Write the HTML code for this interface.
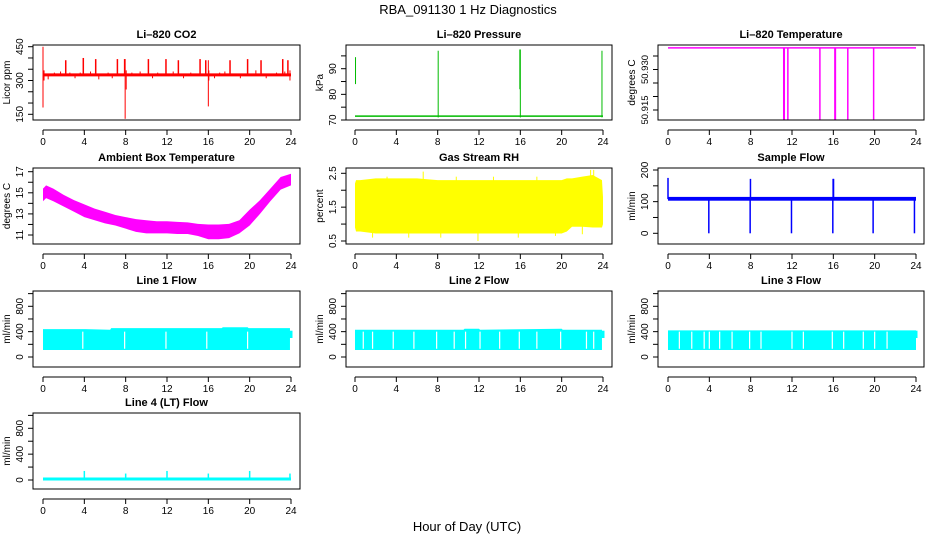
<!DOCTYPE html>
<html><head><meta charset="utf-8"><style>
html,body{margin:0;padding:0;background:#fff;}
svg{display:block;font-family:"Liberation Sans",sans-serif;}
</style></head><body>
<svg id="chart" width="936" height="540" viewBox="0 0 936 540">
<text x="468" y="14" text-anchor="middle" font-size="13">RBA_091130  1 Hz Diagnostics</text>
<text x="467" y="531" text-anchor="middle" font-size="13">Hour of Day (UTC)</text>
</svg>
<script>
// ---- data ----
const xTicks=[0,4,8,12,16,20,24];
// CO2
const co2Base=325;
const co2SpikeHours=[2.2,3.9,5.1,7.2,7.9,10.2,11.9,13.1,15.2,15.75,18.1,19.8,21.1,23.2,23.7];
const co2SpikeVals=[390,400,395,395,395,395,395,390,395,390,390,395,390,395,390];
const co2SegHours=[0,7.95,8.05,16,16.05,0.1,23.9];
const co2SegLo=[180,130,260,185,300,300,300];
const co2SegHi=[450,395,345,390,345,345,345];
const co2BumpHours=[0.5,1.1,1.7,2.6,3.1,3.6,4.6,5.4,6.3,6.7,8.6,9.4,10.6,11.1,12.6,13.6,14.3,16.6,17.1,17.6,19.1,20.6,21.6,22.6,23.4];
const co2BumpVals=[305,335,340,335,310,335,340,305,335,310,335,340,310,335,340,310,335,310,335,340,310,345,310,335,340];
// Pressure
const presBase=71.5;
const presSegHours=[0.05,8.05,15.95,16.0,23.9];
const presSegLo=[84,71,82,71,71];
const presSegHi=[94.5,97,97.5,97.5,97];
// Temperature
const tempTop=50.938;
const tempDropHours=[11.2,11.25,11.6,14.7,16.15,16.2,17.4,19.9];
const tempDropVals=[50.9115,50.9115,50.9115,50.9115,50.9115,50.9115,50.9115,50.9115];
// Ambient box temperature
const ambHours=[0,0.3,1,2,3,4,5,6,7,8,9,10,11,12,13,14,15,16,17,18,19,20,21,22,23,24];
const ambHigh=[15.4,15.7,15.4,14.8,14.3,13.9,13.5,13.2,12.9,12.7,12.5,12.4,12.3,12.3,12.25,12.2,12.05,12.0,12.0,12.05,12.4,13.4,14.3,15.4,16.5,16.8];
const ambLow=[14.2,14.5,14.2,13.7,13.2,12.7,12.4,12.1,11.9,11.6,11.3,11.15,11.15,11.15,11.1,11.1,10.9,10.6,10.6,10.7,11.15,11.9,13.0,14.2,15.3,15.7];
// Gas stream RH
const rhHours=[0,0.1,0.5,2,4,6,8,10,12,14,16,18,20,20.5,21,22,23,23.9,24];
const rhHigh=[2.2,2.3,2.3,2.35,2.35,2.35,2.3,2.3,2.3,2.3,2.3,2.3,2.3,2.35,2.35,2.4,2.45,2.3,1.8];
const rhLow=[0.9,0.78,0.78,0.72,0.72,0.72,0.72,0.72,0.72,0.72,0.72,0.72,0.72,0.78,0.92,0.92,0.9,0.9,1.0];
const rhSpikeHours=[1.7,3.1,5.2,6.6,8.3,9.8,11.9,13.4,15.8,17.6,19.4,22.0,22.8,23.1];
const rhSpikeVals=[0.6,2.4,0.6,2.55,0.6,2.4,0.5,2.4,0.6,2.4,0.65,0.7,2.6,2.6];
// Sample flow
const sfBase=108;
const sfDropHours=[0.05,3.95,7.95,11.95,15.95,19.85,23.85];
const sfDropVals=[108,0,0,0,0,0,0];
const sfUpHours=[0,7.98,15.98,16.02];
const sfUpVals=[175,172,172,172];
// Line flows
const l1Hours=[0,4,4.1,6.5,6.6,17.3,17.4,19.8,19.9,23.9];
const l1High=[440,440,440,430,455,455,470,470,455,455];
const l1Low=[110,110,110,110,110,110,110,110,110,110];
const l1Gaps=[3.85,7.9,11.9,15.85,19.8];
const l2Hours=[0,10.5,10.6,12,12.1,20,20.1,23.9];
const l2High=[430,430,445,445,430,445,430,430];
const l2Low=[110,110,110,110,110,110,110,110];
const l2Gaps=[0.8,1.7,3.7,5.7,7.9,9.6,10.7,12.1,14,15.9,17.6,19.9,22.4,23.1];
const l3Hours=[0,24];
const l3High=[420,420];
const l3Low=[110,110];
const l3Gaps=[1.1,2.3,3.5,4,5,6.2,7.9,9,12,13.1,15.9,17,18.9,20,21.2];
// Line 4 flow
const l4Base=15;
const l4SpikeHours=[4,8,12,16,20,23.9];
const l4SpikeVals=[140,100,140,100,140,100];

// ---- layout ----
const NS="http://www.w3.org/2000/svg";
const svg=document.getElementById('chart');
function mk(tag,attrs,parent){const e=document.createElementNS(NS,tag);for(const k in attrs)e.setAttribute(k,attrs[k]);(parent||svg).appendChild(e);return e;}
const COLS=[{x0:33,x1:300,h0:43,h1:291},{x0:346,x1:612,h0:355,h1:603},{x0:658,x1:924,h0:668,h1:916}];
const ROWS=[{y0:45,y1:120},{y0:168,y1:244},{y0:291,y1:367},{y0:413,y1:489}];

function panel(name,title,ylab,c,r,cal,ticks,labels,lfs){
  const C=COLS[c],R=ROWS[r];
  const g=mk('g',{});
  
  
  const xs=h=>C.h0+(C.h1-C.h0)*h/24;
  const ys=v=>cal[1]+(v-cal[0])*(cal[3]-cal[1])/(cal[2]-cal[0]);
  const t=mk('text',{x:(C.x0+C.x1)/2,y:R.y0-7,'text-anchor':'middle','font-size':11,'font-weight':'bold'},g);
  t.textContent=title;
  
  
  const pg=mk('g',{},g);
  
  
  const box=mk('rect',{x:C.x0,y:R.y0,width:C.x1-C.x0,height:R.y1-R.y0,fill:'none',stroke:'#000','stroke-width':1},g);
  
  
  const ax=mk('g',{},g);
  
  
  const ay=R.y1+10;
  mk('line',{x1:xs(0),x2:xs(24),y1:ay,y2:ay,stroke:'#000'},ax);
  xTicks.forEach(h=>{
    mk('line',{x1:xs(h),x2:xs(h),y1:ay,y2:ay+5,stroke:'#000'},ax);
    const tt=mk('text',{x:xs(h),y:ay+15,'text-anchor':'middle','font-size':10},ax);
    tt.textContent=h;
  });
  const yax=mk('g',{},g);
  
  
  mk('line',{x1:C.x0,x2:C.x0,y1:ys(ticks[0]),y2:ys(ticks[ticks.length-1]),stroke:'#000'},yax);
  ticks.forEach(v=>mk('line',{x1:C.x0-5,x2:C.x0,y1:ys(v),y2:ys(v),stroke:'#000'},yax));
  labels.forEach(v=>{
    const lx=C.x0-10,ly=ys(v);
    const tt=mk('text',{x:lx,y:ly,'text-anchor':'middle','font-size':lfs||10,transform:`rotate(-90 ${lx} ${ly})`},yax);
    tt.textContent=lfs? v.toFixed(3): v;
  });
  const lx=C.x0-23,ly=(R.y0+R.y1)/2;
  const yl=mk('text',{x:lx,y:ly,'text-anchor':'middle','font-size':10,transform:`rotate(-90 ${lx} ${ly})`},g);
  yl.textContent=ylab;
  
  
  return {g:pg,xs,ys};
}
function vseg(P,h,a,b,col,w){mk('line',{x1:P.xs(h),x2:P.xs(h),y1:P.ys(a),y2:P.ys(b),stroke:col,'stroke-width':w||1},P.g);}
function hline(P,v,col,w){mk('line',{x1:P.xs(0),x2:P.xs(24),y1:P.ys(v),y2:P.ys(v),stroke:col,'stroke-width':w||1},P.g);}
function band(P,hours,lo,hi,col){
  let pts=hours.map((h,i)=>P.xs(h)+','+P.ys(hi[i]));
  for(let i=hours.length-1;i>=0;i--)pts.push(P.xs(hours[i])+','+P.ys(lo[i]));
  mk('polygon',{points:pts.join(' '),fill:col},P.g);
}

// CO2
let P=panel('co2','Li–820 CO2','Licor ppm',0,0,[150,114.3,450,46.7],[150,200,250,300,350,400,450],[150,300,450]);
hline(P,co2Base,'#f00',3);
co2BumpHours.forEach((h,i)=>vseg(P,h,co2Base,co2BumpVals[i],'#f00',1));
co2SpikeHours.forEach((h,i)=>vseg(P,h,co2Base,co2SpikeVals[i],'#f00',1.5));
co2SegHours.forEach((h,i)=>vseg(P,h,co2SegLo[i],co2SegHi[i],'#f00',1));
// Pressure
P=panel('pressure','Li–820 Pressure','kPa',1,0,[70,120,90,68.7],[70,75,80,85,90,95],[70,80,90]);
hline(P,presBase,'#0b0',1.5);
presSegHours.forEach((h,i)=>vseg(P,h,presSegLo[i],presSegHi[i],'#0b0',1));
// Temperature
P=panel('temperature','Li–820 Temperature','degrees C',2,0,[50.915,110,50.930,69.5],[50.915,50.920,50.925,50.930,50.935],[50.915,50.930],9.5);
hline(P,tempTop,'#f0f',1.5);
tempDropHours.forEach((h,i)=>vseg(P,h,tempTop,tempDropVals[i],'#f0f',1.5));
// Ambient
P=panel('ambient-temp','Ambient Box Temperature','degrees C',0,1,[11,235,17,171.7],[11,12,13,14,15,16,17],[11,13,15,17]);
band(P,ambHours,ambLow,ambHigh,'#f0f');
// RH
P=panel('gas-rh','Gas Stream RH','percent',1,1,[0.5,241,2.5,173.3],[0.5,1,1.5,2,2.5],[0.5,1.5,2.5]);
band(P,rhHours,rhLow,rhHigh,'#ff0');
rhSpikeHours.forEach((h,i)=>vseg(P,h,1.5,rhSpikeVals[i],'#ff0',1));
// Sample flow
P=panel('sample-flow','Sample Flow','ml/min',2,1,[0,233.3,200,170],[0,50,100,150,200],[0,100,200]);
mk('rect',{x:P.xs(0),y:P.ys(115),width:P.xs(24)-P.xs(0),height:P.ys(103)-P.ys(115),fill:'#00f'},P.g);
sfDropHours.forEach((h,i)=>vseg(P,h,sfBase,sfDropVals[i],'#00f',1.5));
sfUpHours.forEach((h,i)=>vseg(P,h,sfBase,sfUpVals[i],'#00f',1.5));
// Line flows
const flowT=[0,200,400,600,800,1000],flowL=[0,400,800];
[[ 'line1-flow','Line 1 Flow',0,l1Hours,l1Low,l1High,l1Gaps],
 [ 'line2-flow','Line 2 Flow',1,l2Hours,l2Low,l2High,l2Gaps],
 [ 'line3-flow','Line 3 Flow',2,l3Hours,l3Low,l3High,l3Gaps]].forEach(s=>{
  const Q=panel(s[0],s[1],'ml/min',s[2],2,[0,357,800,306.3],flowT,flowL);
  band(Q,s[3],s[4],s[5],'#0ff');
  vseg(Q,24,300,415,'#0ff',3);
  s[6].forEach(h=>vseg(Q,h,130,400,'#fff',1.2));
});
// Line 4
P=panel('line4-flow','Line 4 (LT) Flow','ml/min',0,3,[0,480,800,428.3],flowT,flowL);
hline(P,l4Base,'#0ff',3);
l4SpikeHours.forEach((h,i)=>vseg(P,h,l4Base,l4SpikeVals[i],'#0ff',1.5));
</script>
</body></html>
